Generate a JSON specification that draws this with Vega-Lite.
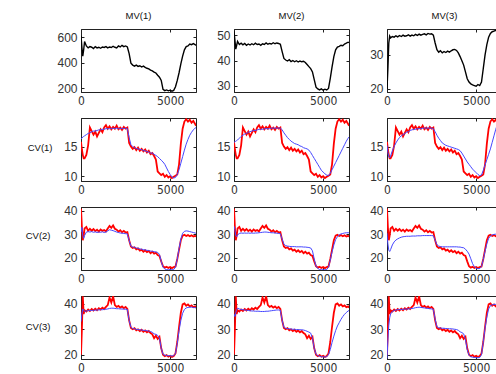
{
  "$schema": "https://vega.github.io/schema/vega-lite/v6.json",
  "background": "white",
  "padding": {"left": 24, "top": 10, "right": -3, "bottom": 0},
  "datasets": {
    "runs": [
      {"t":0,"m1":610,"m2":51.5,"m3":20.0,"r1":15.8,"b11":16.3,"b12":15.7,"b13":15.2,"r2":41.0,"b21":31.0,"b22":33.5,"b23":30.5,"r3":20.0,"b31":33.0,"b32":36.0,"b33":18.5},
      {"t":50,"m1":520,"m2":48.0,"m3":26.0,"r1":14.5,"b11":16.4,"b12":15.8,"b13":14.0,"r2":33.0,"b21":33.0,"b22":32.0,"b23":26.0,"r3":30.0,"b31":36.0,"b32":35.0,"b33":26.0},
      {"t":100,"m1":450,"m2":44.5,"m3":33.5,"r1":13.6,"b11":16.6,"b12":15.9,"b13":13.3,"r2":27.5,"b21":29.5,"b22":29.5,"b23":23.2,"r3":43.0,"b31":38.0,"b32":36.5,"b33":31.5},
      {"t":150,"m1":500,"m2":46.0,"m3":35.5,"r1":13.0,"b11":16.7,"b12":16.0,"b13":13.1,"r2":29.5,"b21":28.3,"b22":29.0,"b23":22.7,"r3":36.0,"b31":37.5,"b32":37.8,"b33":34.5},
      {"t":200,"m1":565,"m2":47.5,"m3":35.0,"r1":13.0,"b11":16.8,"b12":16.1,"b13":13.4,"r2":32.5,"b21":29.5,"b22":29.8,"b23":23.5,"r3":37.5,"b31":37.0,"b32":38.3,"b33":36.0},
      {"t":300,"m1":530,"m2":46.3,"m3":35.4,"r1":13.6,"b11":17.0,"b12":16.4,"b13":14.3,"r2":33.2,"b21":31.0,"b22":30.4,"b23":25.5,"r3":37.0,"b31":37.2,"b32":38.0,"b33":37.0},
      {"t":400,"m1":515,"m2":46.8,"m3":35.2,"r1":15.2,"b11":17.2,"b12":16.7,"b13":15.0,"r2":31.5,"b21":31.2,"b22":30.6,"b23":26.8,"r3":37.8,"b31":37.3,"b32":37.8,"b33":37.4},
      {"t":500,"m1":525,"m2":46.2,"m3":35.6,"r1":18.2,"b11":17.3,"b12":16.9,"b13":15.6,"r2":32.4,"b21":31.0,"b22":30.5,"b23":27.6,"r3":37.2,"b31":37.4,"b32":37.7,"b33":37.6},
      {"t":600,"m1":520,"m2":46.7,"m3":35.3,"r1":17.6,"b11":17.5,"b12":17.1,"b13":16.1,"r2":31.6,"b21":31.2,"b22":30.6,"b23":28.1,"r3":38.0,"b31":37.4,"b32":37.6,"b33":37.7},
      {"t":700,"m1":510,"m2":46.0,"m3":35.7,"r1":17.0,"b11":17.6,"b12":17.2,"b13":16.5,"r2":32.3,"b21":30.9,"b22":30.5,"b23":28.5,"r3":37.4,"b31":37.5,"b32":37.5,"b33":37.8},
      {"t":800,"m1":525,"m2":46.5,"m3":35.4,"r1":17.5,"b11":17.6,"b12":17.4,"b13":16.8,"r2":31.4,"b21":31.1,"b22":30.6,"b23":28.8,"r3":38.1,"b31":37.5,"b32":37.4,"b33":37.8},
      {"t":900,"m1":515,"m2":46.1,"m3":35.8,"r1":16.7,"b11":17.7,"b12":17.5,"b13":17.0,"r2":32.0,"b21":30.8,"b22":30.5,"b23":29.0,"r3":37.5,"b31":37.6,"b32":37.3,"b33":37.9},
      {"t":1000,"m1":520,"m2":46.6,"m3":35.5,"r1":17.3,"b11":17.8,"b12":17.6,"b13":17.2,"r2":31.2,"b21":31.0,"b22":30.6,"b23":29.1,"r3":38.3,"b31":37.6,"b32":37.2,"b33":37.9},
      {"t":1100,"m1":512,"m2":46.2,"m3":35.6,"r1":17.9,"b11":17.8,"b12":17.7,"b13":17.4,"r2":32.1,"b21":30.9,"b22":30.5,"b23":29.2,"r3":37.8,"b31":37.7,"b32":37.2,"b33":38.0},
      {"t":1200,"m1":522,"m2":46.8,"m3":35.9,"r1":17.4,"b11":17.9,"b12":17.7,"b13":17.5,"r2":31.5,"b21":31.1,"b22":30.6,"b23":29.2,"r3":38.5,"b31":37.7,"b32":37.1,"b33":38.0},
      {"t":1300,"m1":518,"m2":46.3,"m3":35.5,"r1":18.2,"b11":17.9,"b12":17.8,"b13":17.7,"r2":31.9,"b21":30.8,"b22":30.6,"b23":29.2,"r3":38.0,"b31":37.8,"b32":37.1,"b33":38.1},
      {"t":1400,"m1":525,"m2":46.5,"m3":35.8,"r1":18.6,"b11":18.0,"b12":17.9,"b13":17.8,"r2":31.3,"b21":31.0,"b22":30.7,"b23":29.3,"r3":38.8,"b31":37.9,"b32":37.1,"b33":38.2},
      {"t":1500,"m1":515,"m2":46.0,"m3":35.6,"r1":18.0,"b11":18.0,"b12":17.9,"b13":17.9,"r2":32.5,"b21":31.5,"b22":30.8,"b23":29.3,"r3":39.5,"b31":38.0,"b32":37.0,"b33":38.3},
      {"t":1600,"m1":522,"m2":46.6,"m3":36.0,"r1":18.4,"b11":18.0,"b12":17.9,"b13":17.9,"r2":33.6,"b21":32.0,"b22":30.9,"b23":29.3,"r3":42.5,"b31":38.2,"b32":37.0,"b33":38.5},
      {"t":1700,"m1":518,"m2":46.3,"m3":35.7,"r1":17.9,"b11":18.0,"b12":18.0,"b13":18.0,"r2":32.8,"b21":31.8,"b22":31.0,"b23":29.4,"r3":40.5,"b31":38.3,"b32":37.0,"b33":38.6},
      {"t":1800,"m1":528,"m2":46.9,"m3":36.1,"r1":18.3,"b11":18.1,"b12":18.0,"b13":18.0,"r2":33.8,"b21":31.6,"b22":31.0,"b23":29.4,"r3":43.0,"b31":38.3,"b32":37.1,"b33":38.7},
      {"t":1900,"m1":520,"m2":46.4,"m3":35.8,"r1":18.0,"b11":18.0,"b12":18.0,"b13":18.0,"r2":32.4,"b21":31.3,"b22":30.9,"b23":29.4,"r3":39.5,"b31":38.2,"b32":37.1,"b33":38.6},
      {"t":2000,"m1":515,"m2":46.7,"m3":36.0,"r1":18.5,"b11":18.1,"b12":18.0,"b13":18.1,"r2":32.0,"b21":31.0,"b22":30.8,"b23":29.5,"r3":38.8,"b31":38.1,"b32":37.2,"b33":38.5},
      {"t":2100,"m1":530,"m2":46.5,"m3":36.2,"r1":17.9,"b11":18.0,"b12":18.1,"b13":18.1,"r2":31.2,"b21":30.8,"b22":30.7,"b23":29.5,"r3":39.2,"b31":38.1,"b32":37.3,"b33":38.4},
      {"t":2200,"m1":522,"m2":47.0,"m3":35.9,"r1":18.2,"b11":18.0,"b12":18.1,"b13":18.1,"r2":31.8,"b21":30.6,"b22":30.7,"b23":29.5,"r3":38.5,"b31":38.0,"b32":37.4,"b33":38.3},
      {"t":2300,"m1":535,"m2":46.6,"m3":36.3,"r1":17.8,"b11":18.1,"b12":18.1,"b13":18.1,"r2":30.9,"b21":30.5,"b22":30.6,"b23":29.5,"r3":39.0,"b31":38.0,"b32":37.5,"b33":38.2},
      {"t":2400,"m1":525,"m2":46.9,"m3":36.1,"r1":18.3,"b11":18.0,"b12":18.1,"b13":18.1,"r2":31.5,"b21":30.4,"b22":30.5,"b23":29.5,"r3":38.3,"b31":37.9,"b32":37.6,"b33":38.1},
      {"t":2500,"m1":530,"m2":46.7,"m3":36.2,"r1":18.0,"b11":18.1,"b12":18.1,"b13":18.1,"r2":30.8,"b21":30.3,"b22":30.4,"b23":29.5,"r3":38.8,"b31":37.9,"b32":37.6,"b33":38.0},
      {"t":2600,"m1":522,"m2":46.4,"m3":35.8,"r1":18.2,"b11":18.0,"b12":18.1,"b13":18.0,"r2":31.0,"b21":30.2,"b22":30.3,"b23":29.4,"r3":38.0,"b31":37.8,"b32":37.5,"b33":37.9},
      {"t":2700,"m1":470,"m2":43.5,"m3":33.5,"r1":15.6,"b11":16.5,"b12":17.8,"b13":17.5,"r2":27.5,"b21":27.5,"b22":28.0,"b23":27.5,"r3":33.5,"b31":33.5,"b32":33.5,"b33":34.0},
      {"t":2800,"m1":395,"m2":40.8,"m3":31.5,"r1":15.0,"b11":15.3,"b12":17.3,"b13":16.9,"r2":24.8,"b21":25.0,"b22":25.8,"b23":25.6,"r3":30.5,"b31":30.8,"b32":30.8,"b33":31.0},
      {"t":2900,"m1":380,"m2":40.2,"m3":30.8,"r1":14.6,"b11":15.0,"b12":16.9,"b13":16.4,"r2":24.2,"b21":24.6,"b22":25.2,"b23":25.0,"r3":30.0,"b31":30.3,"b32":30.4,"b33":30.6},
      {"t":3000,"m1":372,"m2":39.8,"m3":31.2,"r1":14.9,"b11":14.8,"b12":16.5,"b13":16.0,"r2":24.5,"b21":24.5,"b22":25.0,"b23":24.8,"r3":30.4,"b31":30.2,"b32":30.3,"b33":30.5},
      {"t":3100,"m1":380,"m2":40.3,"m3":30.6,"r1":14.4,"b11":14.7,"b12":16.2,"b13":15.6,"r2":23.6,"b21":24.2,"b22":24.9,"b23":24.7,"r3":29.6,"b31":30.0,"b32":30.2,"b33":30.4},
      {"t":3200,"m1":370,"m2":39.6,"m3":31.0,"r1":14.8,"b11":14.6,"b12":15.9,"b13":15.4,"r2":24.0,"b21":24.1,"b22":24.8,"b23":24.7,"r3":30.0,"b31":29.9,"b32":30.1,"b33":30.4},
      {"t":3300,"m1":375,"m2":40.0,"m3":30.7,"r1":14.3,"b11":14.5,"b12":15.7,"b13":15.2,"r2":23.1,"b21":23.8,"b22":24.8,"b23":24.7,"r3":29.3,"b31":29.8,"b32":30.0,"b33":30.3},
      {"t":3400,"m1":365,"m2":39.5,"m3":31.1,"r1":14.6,"b11":14.5,"b12":15.5,"b13":15.1,"r2":23.5,"b21":23.7,"b22":24.8,"b23":24.7,"r3":29.8,"b31":29.7,"b32":30.0,"b33":30.3},
      {"t":3500,"m1":372,"m2":39.9,"m3":30.8,"r1":14.2,"b11":14.3,"b12":15.4,"b13":15.0,"r2":22.6,"b21":23.5,"b22":24.7,"b23":24.7,"r3":29.0,"b31":29.6,"b32":29.9,"b33":30.2},
      {"t":3600,"m1":362,"m2":39.4,"m3":31.2,"r1":14.5,"b11":14.3,"b12":15.3,"b13":14.9,"r2":23.2,"b21":23.4,"b22":24.7,"b23":24.7,"r3":29.5,"b31":29.5,"b32":29.9,"b33":30.2},
      {"t":3700,"m1":355,"m2":39.8,"m3":31.5,"r1":14.0,"b11":14.1,"b12":15.1,"b13":14.8,"r2":22.4,"b21":23.2,"b22":24.7,"b23":24.7,"r3":28.8,"b31":29.4,"b32":29.8,"b33":30.1},
      {"t":3800,"m1":350,"m2":39.5,"m3":31.6,"r1":14.3,"b11":14.1,"b12":15.0,"b13":14.7,"r2":22.9,"b21":23.1,"b22":24.7,"b23":24.7,"r3":29.3,"b31":29.3,"b32":29.8,"b33":30.0},
      {"t":3900,"m1":340,"m2":39.7,"m3":31.3,"r1":13.7,"b11":13.9,"b12":14.8,"b13":14.6,"r2":22.0,"b21":22.9,"b22":24.6,"b23":24.7,"r3":28.5,"b31":29.1,"b32":29.7,"b33":29.9},
      {"t":4000,"m1":335,"m2":39.2,"m3":30.6,"r1":13.9,"b11":13.9,"b12":14.7,"b13":14.5,"r2":22.6,"b21":22.8,"b22":24.6,"b23":24.6,"r3":28.0,"b31":28.8,"b32":29.5,"b33":29.6},
      {"t":4100,"m1":325,"m2":38.4,"m3":29.5,"r1":13.4,"b11":13.7,"b12":14.6,"b13":14.3,"r2":21.8,"b21":22.6,"b22":24.5,"b23":24.6,"r3":26.5,"b31":28.2,"b32":29.2,"b33":29.0},
      {"t":4200,"m1":318,"m2":37.6,"m3":28.3,"r1":12.8,"b11":13.5,"b12":14.4,"b13":13.9,"r2":22.2,"b21":22.5,"b22":24.4,"b23":24.4,"r3":27.5,"b31":28.0,"b32":28.9,"b33":28.7},
      {"t":4300,"m1":300,"m2":36.8,"m3":27.0,"r1":10.8,"b11":13.3,"b12":14.0,"b13":13.4,"r2":21.2,"b21":22.3,"b22":24.2,"b23":24.3,"r3":26.2,"b31":27.6,"b32":28.5,"b33":28.2},
      {"t":4400,"m1":285,"m2":35.5,"m3":25.0,"r1":10.5,"b11":13.0,"b12":13.5,"b13":12.9,"r2":20.8,"b21":21.5,"b22":23.0,"b23":23.7,"r3":27.0,"b31":26.5,"b32":26.5,"b33":26.0},
      {"t":4500,"m1":260,"m2":32.5,"m3":23.0,"r1":10.2,"b11":12.7,"b12":13.0,"b13":12.4,"r2":18.5,"b21":18.5,"b22":19.5,"b23":22.8,"r3":22.5,"b31":22.5,"b32":22.5,"b33":22.0},
      {"t":4600,"m1":190,"m2":29.5,"m3":22.0,"r1":10.4,"b11":12.4,"b12":12.5,"b13":12.0,"r2":16.4,"b21":16.0,"b22":16.5,"b23":21.6,"r3":20.0,"b31":20.2,"b32":20.2,"b33":19.8},
      {"t":4700,"m1":180,"m2":28.8,"m3":21.5,"r1":9.9,"b11":12.0,"b12":12.0,"b13":11.6,"r2":15.8,"b21":15.2,"b22":15.5,"b23":19.6,"r3":19.4,"b31":19.8,"b32":19.6,"b33":19.2},
      {"t":4800,"m1":185,"m2":28.4,"m3":21.2,"r1":10.2,"b11":11.4,"b12":11.5,"b13":11.2,"r2":16.2,"b21":15.0,"b22":15.0,"b23":17.5,"r3":19.8,"b31":19.7,"b32":19.4,"b33":19.0},
      {"t":4900,"m1":178,"m2":28.8,"m3":21.0,"r1":9.8,"b11":10.8,"b12":11.0,"b13":10.9,"r2":15.7,"b21":14.9,"b22":14.9,"b23":16.2,"r3":19.2,"b31":19.6,"b32":19.2,"b33":18.9},
      {"t":5000,"m1":183,"m2":28.3,"m3":20.8,"r1":10.0,"b11":10.3,"b12":10.7,"b13":10.6,"r2":16.1,"b21":15.0,"b22":14.9,"b23":15.6,"r3":19.6,"b31":19.6,"b32":19.1,"b33":18.8},
      {"t":5100,"m1":176,"m2":28.7,"m3":21.3,"r1":9.7,"b11":9.9,"b12":10.4,"b13":10.3,"r2":15.6,"b21":14.9,"b22":14.9,"b23":15.4,"r3":19.1,"b31":19.5,"b32":19.1,"b33":18.8},
      {"t":5200,"m1":182,"m2":28.4,"m3":21.0,"r1":9.9,"b11":9.7,"b12":10.2,"b13":10.1,"r2":16.0,"b21":15.0,"b22":15.0,"b23":15.4,"r3":19.5,"b31":19.6,"b32":19.2,"b33":18.9},
      {"t":5300,"m1":210,"m2":29.0,"m3":22.0,"r1":10.1,"b11":9.8,"b12":10.1,"b13":10.2,"r2":16.3,"b21":16.0,"b22":16.0,"b23":16.3,"r3":20.5,"b31":20.5,"b32":20.0,"b33":20.0},
      {"t":5400,"m1":260,"m2":33.0,"m3":26.0,"r1":10.3,"b11":10.3,"b12":10.5,"b13":11.0,"r2":19.5,"b21":19.5,"b22":19.0,"b23":19.3,"r3":25.0,"b31":24.5,"b32":22.0,"b33":25.0},
      {"t":5500,"m1":320,"m2":37.5,"m3":30.0,"r1":12.0,"b11":11.1,"b12":11.1,"b13":11.9,"r2":23.5,"b21":24.0,"b22":22.5,"b23":22.8,"r3":31.0,"b31":29.5,"b32":24.8,"b33":30.5},
      {"t":5600,"m1":390,"m2":41.5,"m3":33.0,"r1":15.5,"b11":12.2,"b12":11.7,"b13":12.8,"r2":27.5,"b21":28.0,"b22":25.5,"b23":26.0,"r3":36.5,"b31":33.5,"b32":27.3,"b33":34.8},
      {"t":5700,"m1":450,"m2":44.2,"m3":35.2,"r1":18.0,"b11":13.3,"b12":12.3,"b13":13.7,"r2":29.5,"b21":30.5,"b22":27.8,"b23":28.3,"r3":39.8,"b31":36.3,"b32":29.5,"b33":38.0},
      {"t":5800,"m1":500,"m2":45.3,"m3":36.3,"r1":19.2,"b11":14.4,"b12":12.9,"b13":14.6,"r2":29.8,"b21":31.3,"b22":29.0,"b23":29.3,"r3":40.2,"b31":37.8,"b32":31.3,"b33":39.3},
      {"t":5900,"m1":525,"m2":45.6,"m3":36.8,"r1":19.6,"b11":15.4,"b12":13.5,"b13":15.7,"r2":29.3,"b21":31.5,"b22":29.8,"b23":29.8,"r3":39.3,"b31":38.4,"b32":32.6,"b33":39.6},
      {"t":6000,"m1":530,"m2":46.0,"m3":37.0,"r1":19.2,"b11":16.2,"b12":14.1,"b13":16.8,"r2":29.7,"b21":31.4,"b22":30.2,"b23":30.0,"r3":39.8,"b31":38.6,"b32":33.9,"b33":39.8},
      {"t":6100,"m1":545,"m2":45.8,"m3":37.2,"r1":19.5,"b11":16.9,"b12":14.7,"b13":17.9,"r2":29.2,"b21":31.2,"b22":30.4,"b23":30.1,"r3":39.0,"b31":38.7,"b32":35.0,"b33":39.8},
      {"t":6200,"m1":540,"m2":46.5,"m3":37.0,"r1":19.0,"b11":17.4,"b12":15.3,"b13":18.8,"r2":29.6,"b21":31.0,"b22":30.6,"b23":30.2,"r3":39.4,"b31":38.7,"b32":35.9,"b33":39.9},
      {"t":6300,"m1":548,"m2":46.8,"m3":37.4,"r1":19.3,"b11":17.8,"b12":15.9,"b13":19.4,"r2":29.1,"b21":30.8,"b22":30.7,"b23":30.3,"r3":38.7,"b31":38.6,"b32":36.6,"b33":39.9},
      {"t":6400,"m1":540,"m2":47.2,"m3":37.3,"r1":18.8,"b11":18.1,"b12":16.4,"b13":19.6,"r2":29.4,"b21":30.6,"b22":30.7,"b23":30.3,"r3":39.0,"b31":38.5,"b32":37.2,"b33":40.0},
      {"t":6450,"m1":535,"m2":47.0,"m3":37.5,"r1":18.5,"b11":18.2,"b12":16.6,"b13":19.7,"r2":29.0,"b21":30.5,"b22":30.7,"b23":30.3,"r3":38.5,"b31":38.4,"b32":37.4,"b33":40.0}
    ]
  },
  "data": {"name": "runs"},
  "columns": 3,
  "spacing": {"row": 26, "column": 38},
  "bounds": "flush",
  "concat": [
    {"title": "MV(1)", "width": 115, "height": 63,
     "resolve": {"axis": {"x": "independent", "y": "independent"}},
     "layer": [
      {"mark": {"type": "line", "color": "#000000", "strokeWidth": 1.4, "clip": true},
       "encoding": {
         "x": {"field": "t", "type": "quantitative", "scale": {"domain": [0, 6450], "nice": false, "zero": false}, "axis": {"values": [0, 5000], "format": "d", "title": null}},
         "y": {"field": "m1", "type": "quantitative", "scale": {"domain": [169, 663], "nice": false, "zero": false}, "axis": {"values": [200, 400, 600], "title": null}}}},
      {"mark": {"type": "line", "strokeOpacity": 0},
       "encoding": {
         "x": {"field": "t", "type": "quantitative", "axis": {"orient": "top", "values": [0, 5000], "labels": false, "domain": false, "title": null}},
         "y": {"field": "m1", "type": "quantitative", "axis": {"orient": "right", "values": [200, 400, 600], "labels": false, "domain": false, "title": null}}}}]},
    {"title": "MV(2)", "width": 115, "height": 63,
     "resolve": {"axis": {"x": "independent", "y": "independent"}},
     "layer": [
      {"mark": {"type": "line", "color": "#000000", "strokeWidth": 1.4, "clip": true},
       "encoding": {
         "x": {"field": "t", "type": "quantitative", "scale": {"domain": [0, 6450], "nice": false, "zero": false}, "axis": {"values": [0, 5000], "format": "d", "title": null}},
         "y": {"field": "m2", "type": "quantitative", "scale": {"domain": [27.6, 52.4], "nice": false, "zero": false}, "axis": {"values": [30, 40, 50], "title": null}}}},
      {"mark": {"type": "line", "strokeOpacity": 0},
       "encoding": {
         "x": {"field": "t", "type": "quantitative", "axis": {"orient": "top", "values": [0, 5000], "labels": false, "domain": false, "title": null}},
         "y": {"field": "m2", "type": "quantitative", "axis": {"orient": "right", "values": [30, 40, 50], "labels": false, "domain": false, "title": null}}}}]},
    {"title": "MV(3)", "width": 115, "height": 63,
     "resolve": {"axis": {"x": "independent", "y": "independent"}},
     "layer": [
      {"mark": {"type": "line", "color": "#000000", "strokeWidth": 1.4, "clip": true},
       "encoding": {
         "x": {"field": "t", "type": "quantitative", "scale": {"domain": [0, 6450], "nice": false, "zero": false}, "axis": {"values": [0, 5000], "format": "d", "title": null}},
         "y": {"field": "m3", "type": "quantitative", "scale": {"domain": [19.1, 37.6], "nice": false, "zero": false}, "axis": {"values": [20, 30], "title": null}}}},
      {"mark": {"type": "line", "strokeOpacity": 0},
       "encoding": {
         "x": {"field": "t", "type": "quantitative", "axis": {"orient": "top", "values": [0, 5000], "labels": false, "domain": false, "title": null}},
         "y": {"field": "m3", "type": "quantitative", "axis": {"orient": "right", "values": [20, 30], "labels": false, "domain": false, "title": null}}}}]},

    {"width": 115, "height": 63,
     "resolve": {"axis": {"x": "independent", "y": "independent"}},
     "layer": [
      {"mark": {"type": "line", "color": "#ff0000", "strokeWidth": 1.8, "clip": true},
       "encoding": {
         "x": {"field": "t", "type": "quantitative", "scale": {"domain": [0, 6450], "nice": false, "zero": false}, "axis": {"values": [0, 5000], "format": "d", "title": null}},
         "y": {"field": "r1", "type": "quantitative", "scale": {"domain": [9.2, 19.8], "nice": false, "zero": false}, "axis": {"values": [10, 15], "title": "CV(1)", "titleAngle": 0, "titleAlign": "right", "titleBaseline": "middle", "titleX": -29, "titleY": 29}}}},
      {"mark": {"type": "line", "color": "#4646ff", "strokeWidth": 1, "clip": true},
       "encoding": {
         "x": {"field": "t", "type": "quantitative", "axis": {"orient": "top", "values": [0, 5000], "labels": false, "domain": false, "title": null}},
         "y": {"field": "b11", "type": "quantitative", "axis": {"orient": "right", "values": [10, 15], "labels": false, "domain": false, "title": null}}}}]},
    {"width": 115, "height": 63,
     "resolve": {"axis": {"x": "independent", "y": "independent"}},
     "layer": [
      {"mark": {"type": "line", "color": "#ff0000", "strokeWidth": 1.8, "clip": true},
       "encoding": {
         "x": {"field": "t", "type": "quantitative", "scale": {"domain": [0, 6450], "nice": false, "zero": false}, "axis": {"values": [0, 5000], "format": "d", "title": null}},
         "y": {"field": "r1", "type": "quantitative", "scale": {"domain": [9.2, 19.8], "nice": false, "zero": false}, "axis": {"values": [10, 15], "title": null}}}},
      {"mark": {"type": "line", "color": "#4646ff", "strokeWidth": 1, "clip": true},
       "encoding": {
         "x": {"field": "t", "type": "quantitative", "axis": {"orient": "top", "values": [0, 5000], "labels": false, "domain": false, "title": null}},
         "y": {"field": "b12", "type": "quantitative", "axis": {"orient": "right", "values": [10, 15], "labels": false, "domain": false, "title": null}}}}]},
    {"width": 115, "height": 63,
     "resolve": {"axis": {"x": "independent", "y": "independent"}},
     "layer": [
      {"mark": {"type": "line", "color": "#ff0000", "strokeWidth": 1.8, "clip": true},
       "encoding": {
         "x": {"field": "t", "type": "quantitative", "scale": {"domain": [0, 6450], "nice": false, "zero": false}, "axis": {"values": [0, 5000], "format": "d", "title": null}},
         "y": {"field": "r1", "type": "quantitative", "scale": {"domain": [9.2, 19.8], "nice": false, "zero": false}, "axis": {"values": [10, 15], "title": null}}}},
      {"mark": {"type": "line", "color": "#4646ff", "strokeWidth": 1, "clip": true},
       "encoding": {
         "x": {"field": "t", "type": "quantitative", "axis": {"orient": "top", "values": [0, 5000], "labels": false, "domain": false, "title": null}},
         "y": {"field": "b13", "type": "quantitative", "axis": {"orient": "right", "values": [10, 15], "labels": false, "domain": false, "title": null}}}}]},

    {"width": 115, "height": 63,
     "resolve": {"axis": {"x": "independent", "y": "independent"}},
     "layer": [
      {"mark": {"type": "line", "color": "#ff0000", "strokeWidth": 1.8, "clip": true},
       "encoding": {
         "x": {"field": "t", "type": "quantitative", "scale": {"domain": [0, 6450], "nice": false, "zero": false}, "axis": {"values": [0, 5000], "format": "d", "title": null}},
         "y": {"field": "r2", "type": "quantitative", "scale": {"domain": [14.8, 41.7], "nice": false, "zero": false}, "axis": {"values": [20, 30, 40], "title": "CV(2)", "titleAngle": 0, "titleAlign": "right", "titleBaseline": "middle", "titleX": -31, "titleY": 28}}}},
      {"mark": {"type": "line", "color": "#4646ff", "strokeWidth": 1, "clip": true},
       "encoding": {
         "x": {"field": "t", "type": "quantitative", "axis": {"orient": "top", "values": [0, 5000], "labels": false, "domain": false, "title": null}},
         "y": {"field": "b21", "type": "quantitative", "axis": {"orient": "right", "values": [20, 30, 40], "labels": false, "domain": false, "title": null}}}}]},
    {"width": 115, "height": 63,
     "resolve": {"axis": {"x": "independent", "y": "independent"}},
     "layer": [
      {"mark": {"type": "line", "color": "#ff0000", "strokeWidth": 1.8, "clip": true},
       "encoding": {
         "x": {"field": "t", "type": "quantitative", "scale": {"domain": [0, 6450], "nice": false, "zero": false}, "axis": {"values": [0, 5000], "format": "d", "title": null}},
         "y": {"field": "r2", "type": "quantitative", "scale": {"domain": [14.8, 41.7], "nice": false, "zero": false}, "axis": {"values": [20, 30, 40], "title": null}}}},
      {"mark": {"type": "line", "color": "#4646ff", "strokeWidth": 1, "clip": true},
       "encoding": {
         "x": {"field": "t", "type": "quantitative", "axis": {"orient": "top", "values": [0, 5000], "labels": false, "domain": false, "title": null}},
         "y": {"field": "b22", "type": "quantitative", "axis": {"orient": "right", "values": [20, 30, 40], "labels": false, "domain": false, "title": null}}}}]},
    {"width": 115, "height": 63,
     "resolve": {"axis": {"x": "independent", "y": "independent"}},
     "layer": [
      {"mark": {"type": "line", "color": "#ff0000", "strokeWidth": 1.8, "clip": true},
       "encoding": {
         "x": {"field": "t", "type": "quantitative", "scale": {"domain": [0, 6450], "nice": false, "zero": false}, "axis": {"values": [0, 5000], "format": "d", "title": null}},
         "y": {"field": "r2", "type": "quantitative", "scale": {"domain": [14.8, 41.7], "nice": false, "zero": false}, "axis": {"values": [20, 30, 40], "title": null}}}},
      {"mark": {"type": "line", "color": "#4646ff", "strokeWidth": 1, "clip": true},
       "encoding": {
         "x": {"field": "t", "type": "quantitative", "axis": {"orient": "top", "values": [0, 5000], "labels": false, "domain": false, "title": null}},
         "y": {"field": "b23", "type": "quantitative", "axis": {"orient": "right", "values": [20, 30, 40], "labels": false, "domain": false, "title": null}}}}]},

    {"width": 115, "height": 63,
     "resolve": {"axis": {"x": "independent", "y": "independent"}},
     "layer": [
      {"mark": {"type": "line", "color": "#ff0000", "strokeWidth": 1.8, "clip": true},
       "encoding": {
         "x": {"field": "t", "type": "quantitative", "scale": {"domain": [0, 6450], "nice": false, "zero": false}, "axis": {"values": [0, 5000], "format": "d", "title": null}},
         "y": {"field": "r3", "type": "quantitative", "scale": {"domain": [18.3, 43.1], "nice": false, "zero": false}, "axis": {"values": [20, 30, 40], "title": "CV(3)", "titleAngle": 0, "titleAlign": "right", "titleBaseline": "middle", "titleX": -31, "titleY": 30}}}},
      {"mark": {"type": "line", "color": "#4646ff", "strokeWidth": 1, "clip": true},
       "encoding": {
         "x": {"field": "t", "type": "quantitative", "axis": {"orient": "top", "values": [0, 5000], "labels": false, "domain": false, "title": null}},
         "y": {"field": "b31", "type": "quantitative", "axis": {"orient": "right", "values": [20, 30, 40], "labels": false, "domain": false, "title": null}}}}]},
    {"width": 115, "height": 63,
     "resolve": {"axis": {"x": "independent", "y": "independent"}},
     "layer": [
      {"mark": {"type": "line", "color": "#ff0000", "strokeWidth": 1.8, "clip": true},
       "encoding": {
         "x": {"field": "t", "type": "quantitative", "scale": {"domain": [0, 6450], "nice": false, "zero": false}, "axis": {"values": [0, 5000], "format": "d", "title": null}},
         "y": {"field": "r3", "type": "quantitative", "scale": {"domain": [18.3, 43.1], "nice": false, "zero": false}, "axis": {"values": [20, 30, 40], "title": null}}}},
      {"mark": {"type": "line", "color": "#4646ff", "strokeWidth": 1, "clip": true},
       "encoding": {
         "x": {"field": "t", "type": "quantitative", "axis": {"orient": "top", "values": [0, 5000], "labels": false, "domain": false, "title": null}},
         "y": {"field": "b32", "type": "quantitative", "axis": {"orient": "right", "values": [20, 30, 40], "labels": false, "domain": false, "title": null}}}}]},
    {"width": 115, "height": 63,
     "resolve": {"axis": {"x": "independent", "y": "independent"}},
     "layer": [
      {"mark": {"type": "line", "color": "#ff0000", "strokeWidth": 1.8, "clip": true},
       "encoding": {
         "x": {"field": "t", "type": "quantitative", "scale": {"domain": [0, 6450], "nice": false, "zero": false}, "axis": {"values": [0, 5000], "format": "d", "title": null}},
         "y": {"field": "r3", "type": "quantitative", "scale": {"domain": [18.3, 43.1], "nice": false, "zero": false}, "axis": {"values": [20, 30, 40], "title": null}}}},
      {"mark": {"type": "line", "color": "#4646ff", "strokeWidth": 1, "clip": true},
       "encoding": {
         "x": {"field": "t", "type": "quantitative", "axis": {"orient": "top", "values": [0, 5000], "labels": false, "domain": false, "title": null}},
         "y": {"field": "b33", "type": "quantitative", "axis": {"orient": "right", "values": [20, 30, 40], "labels": false, "domain": false, "title": null}}}}]}
  ],
  "config": {
    "view": {"stroke": "#222222", "strokeWidth": 1},
    "axis": {
      "grid": false,
      "domainColor": "#222222",
      "tickColor": "#222222",
      "tickSize": -3,
      "labelPadding": 7,
      "labelOverlap": false,
      "labelFont": "Liberation Sans",
      "labelFontSize": 12,
      "labelColor": "#333333",
      "titleFont": "Liberation Sans",
      "titleFontSize": 9.5,
      "titleFontWeight": "normal",
      "titleColor": "#111111"
    },
    "axisX": {"labelFlush": false, "labelFont": "Liberation Sans Narrow, DejaVu Sans Condensed, Liberation Sans", "labelFontSize": 12, "labelPadding": 6},
    "title": {"font": "Liberation Sans", "fontSize": 9.5, "fontWeight": "normal", "color": "#111111", "offset": 8}
  }
}
